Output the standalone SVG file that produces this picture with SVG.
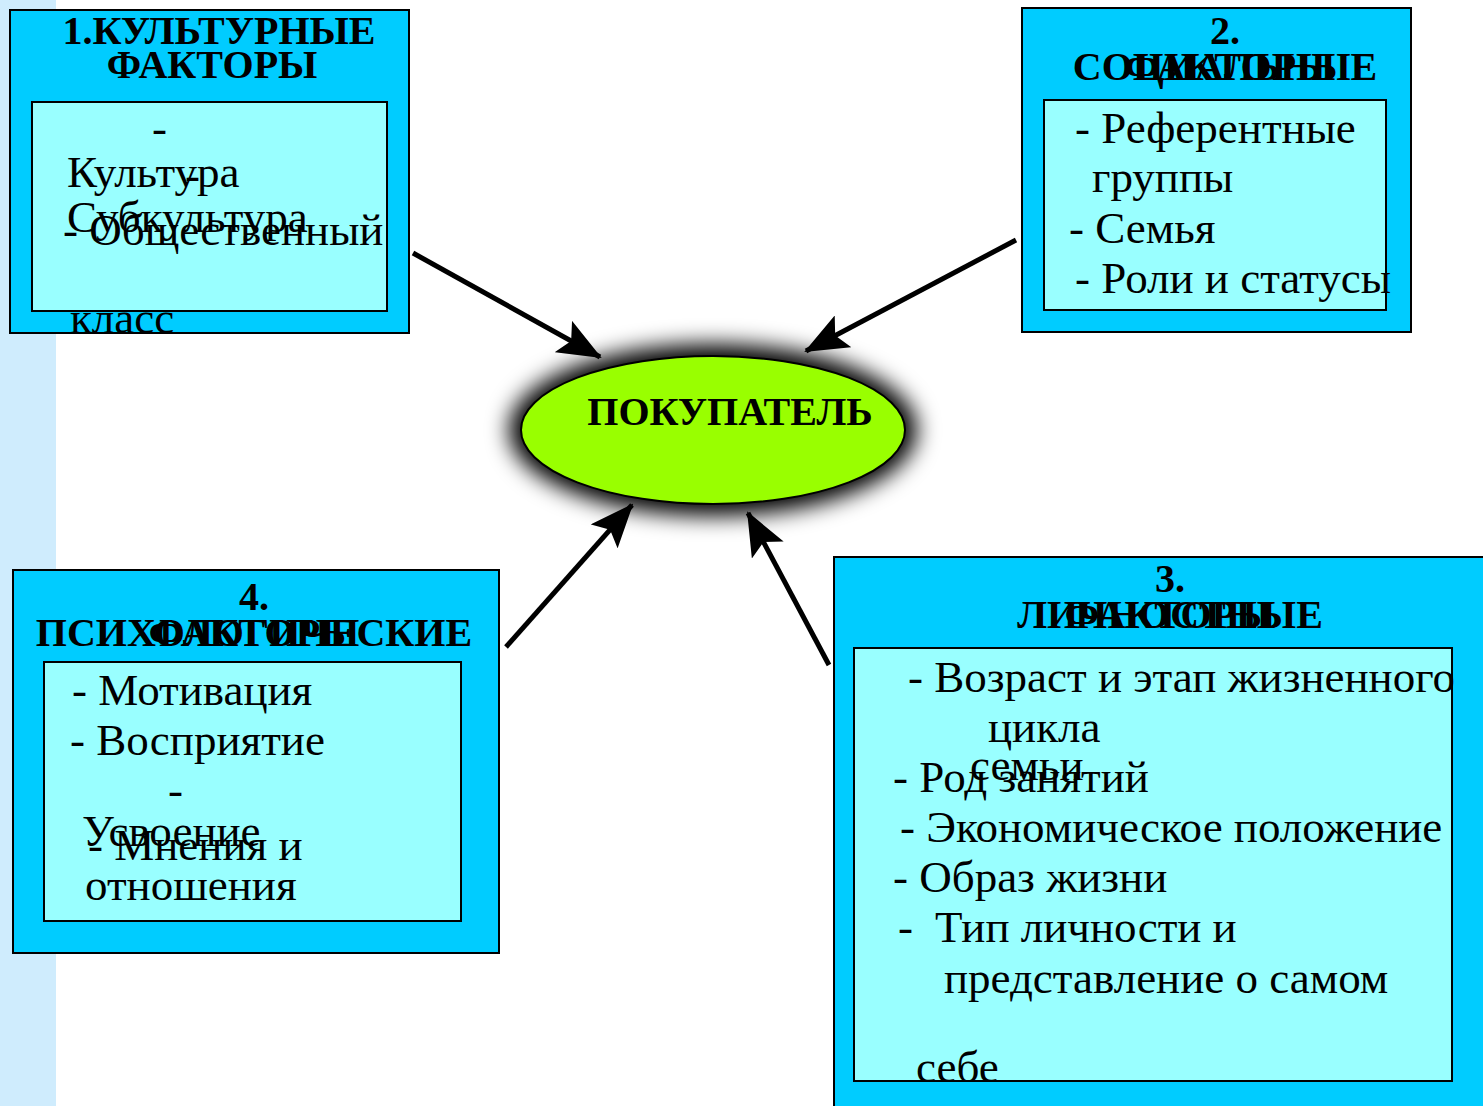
<svg xmlns="http://www.w3.org/2000/svg" width="1483" height="1106" viewBox="0 0 1483 1106">
<style>
.outer{fill:#00ccff;stroke:#000;stroke-width:2}
.inner{fill:#99ffff;stroke:#000;stroke-width:2}
.t{font-family:"Liberation Serif","DejaVu Serif",serif;font-weight:bold;font-size:40px;fill:#000;text-anchor:middle}
.b{font-family:"Liberation Serif","DejaVu Serif",serif;font-size:45px;fill:#000}
.conn{stroke:#000;stroke-width:5;fill:none}
</style>
<defs>
<marker id="ah" viewBox="0 0 44 36" refX="42" refY="18" markerWidth="44" markerHeight="36" markerUnits="userSpaceOnUse" orient="auto">
<path d="M0,0 L44,18 L0,36 L9,18 Z" fill="#000"/>
</marker>
<filter id="glow" x="-30%" y="-40%" width="160%" height="180%">
<feGaussianBlur stdDeviation="11"/>
</filter>
</defs>
<rect width="1483" height="1106" fill="#fff"/>
<rect x="0" y="0" width="56" height="1106" fill="#cfecfd"/>

<g id="connectors">
<line class="conn" x1="413" y1="253" x2="600" y2="357" marker-end="url(#ah)"/>
<line class="conn" x1="1016" y1="240" x2="806" y2="351" marker-end="url(#ah)"/>
<line class="conn" x1="506" y1="647" x2="632" y2="505" marker-end="url(#ah)"/>
<line class="conn" x1="829" y1="665" x2="748" y2="513" marker-end="url(#ah)"/>
</g>

<g id="buyer">
<ellipse cx="713" cy="430" rx="204" ry="86" fill="#000" filter="url(#glow)"/>
<ellipse cx="713" cy="430" rx="192" ry="74" fill="#99ff00" stroke="#000" stroke-width="2"/>
<text class="t" x="730" y="425">ПОКУПАТЕЛЬ</text>
</g>

<g id="cultural">
<rect class="outer" x="10" y="10" width="399" height="323"/>
<rect class="inner" x="32" y="102" width="355" height="209"/>
<text class="t" x="219" y="44">1.КУЛЬТУРНЫЕ</text>
<text class="t" x="212" y="78">ФАКТОРЫ</text>
<text class="b" x="152" y="143">-</text>
<text class="b" x="67" y="187">Культура</text>
<text class="b" x="185" y="190">-</text>
<text class="b" x="67" y="232">Субкультура</text>
<text class="b" x="63" y="245">- Общественный</text>
<text class="b" x="70" y="333">класс</text>
</g>

<g id="social">
<rect class="outer" x="1022" y="8" width="389" height="324"/>
<rect class="inner" x="1044" y="100" width="342" height="210"/>
<text class="t" x="1225" y="44">2.</text>
<text class="t" x="1225" y="80">СОЦИАЛЬНЫЕ</text>
<text class="t" x="1230" y="80">ФАКТОРЫ</text>
<text class="b" x="1075" y="143">- Референтные</text>
<text class="b" x="1092" y="192">группы</text>
<text class="b" x="1069" y="243">- Семья</text>
<text class="b" x="1075" y="293">- Роли и статусы</text>
</g>

<g id="psychological">
<rect class="outer" x="13" y="570" width="486" height="383"/>
<rect class="inner" x="44" y="662" width="417" height="259"/>
<text class="t" x="254" y="610">4.</text>
<text class="t" x="254" y="646">ПСИХОЛОГИЧЕСКИЕ</text>
<text class="t" x="254" y="646">ФАКТОРЫ</text>
<text class="b" x="72" y="705">- Мотивация</text>
<text class="b" x="70" y="755">- Восприятие</text>
<text class="b" x="168" y="805">-</text>
<text class="b" x="82" y="846">Усвоение</text>
<text class="b" x="88" y="860">- Мнения и</text>
<text class="b" x="85" y="900">отношения</text>
</g>

<g id="personal">
<rect class="outer" x="834" y="557" width="660" height="560"/>
<rect class="inner" x="854" y="648" width="598" height="433"/>
<text class="t" x="1170" y="592">3.</text>
<text class="t" x="1170" y="628">ЛИЧНОСТНЫЕ</text>
<text class="t" x="1170" y="628">ФАКТОРЫ</text>
<text class="b" x="908" y="692">- Возраст и этап жизненного</text>
<text class="b" x="988" y="742">цикла</text>
<text class="b" x="970" y="780">семьи</text>
<text class="b" x="893" y="792">- Род занятий</text>
<text class="b" x="900" y="842">- Экономическое положение</text>
<text class="b" x="893" y="892">- Образ жизни</text>
<text class="b" x="898" y="942">-</text>
<text class="b" x="935" y="942">Тип личности и</text>
<text class="b" x="944" y="993">представление о самом</text>
<text class="b" x="916" y="1082">себе</text>
</g>
</svg>
